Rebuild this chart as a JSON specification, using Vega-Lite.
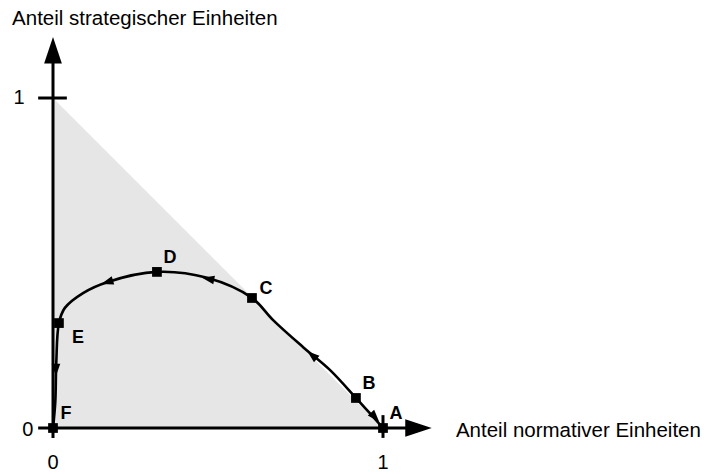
{
  "$schema": "https://vega.github.io/schema/vega-lite/v6.json",
  "width": 709,
  "height": 474,
  "padding": 0,
  "autosize": {"type": "fit", "contains": "padding"},
  "background": "white",
  "config": {"view": {"stroke": null}, "font": "Liberation Sans"},
  "datasets": {
    "tri": [{"x": 0, "y": 1}, {"x": 1, "y": 0}],
    "axes": [
      {"x": -0.045, "x2": 1.1, "y": 0, "y2": 0},
      {"x": 0, "x2": 0, "y": -0.03, "y2": 1.14},
      {"x": -0.045, "x2": 0.042, "y": 1, "y2": 1},
      {"x": 1, "x2": 1, "y": -0.03, "y2": 0.039}
    ],
    "curve": [
      {"o": 1, "x": 1.0, "y": 0.0},
      {"o": 2, "x": 0.96, "y": 0.045},
      {"o": 3, "x": 0.918, "y": 0.091},
      {"o": 4, "x": 0.839, "y": 0.176},
      {"o": 5, "x": 0.758, "y": 0.245},
      {"o": 6, "x": 0.667, "y": 0.327},
      {"o": 7, "x": 0.603, "y": 0.394},
      {"o": 8, "x": 0.467, "y": 0.455},
      {"o": 9, "x": 0.315, "y": 0.473},
      {"o": 10, "x": 0.164, "y": 0.442},
      {"o": 11, "x": 0.091, "y": 0.409},
      {"o": 12, "x": 0.036, "y": 0.364},
      {"o": 13, "x": 0.018, "y": 0.318},
      {"o": 14, "x": 0.01, "y": 0.2},
      {"o": 15, "x": 0.007, "y": 0.08},
      {"o": 16, "x": 0.0, "y": 0.0}
    ],
    "pts": [
      {"label": "A", "x": 1.0, "y": 0.0},
      {"label": "B", "x": 0.918, "y": 0.091},
      {"label": "C", "x": 0.603, "y": 0.394},
      {"label": "D", "x": 0.315, "y": 0.473},
      {"label": "E", "x": 0.018, "y": 0.318},
      {"label": "F", "x": 0.0, "y": 0.0}
    ],
    "dirs": [
      {"x": 0.976, "y": 0.033, "angle": 138},
      {"x": 0.785, "y": 0.221, "angle": 310},
      {"x": 0.47, "y": 0.452, "angle": 281},
      {"x": 0.164, "y": 0.442, "angle": 253},
      {"x": 0.009, "y": 0.176, "angle": 180}
    ],
    "heads": [
      {"x": 0, "y": 1.145, "angle": 0},
      {"x": 1.1076, "y": 0, "angle": 90}
    ],
    "ticks": [
      {"t": "1", "x": -0.103, "y": 1},
      {"t": "0", "x": -0.076, "y": -0.006},
      {"t": "0", "x": 0, "y": -0.106},
      {"t": "1", "x": 1, "y": -0.106}
    ],
    "titles": [
      {"t": "Anteil strategischer Einheiten", "x": -0.124, "y": 1.221},
      {"t": "Anteil normativer Einheiten", "x": 1.221, "y": -0.026}
    ]
  },
  "layer": [
    {
      "data": {"name": "tri"},
      "mark": {"type": "area", "color": "#e6e6e6", "opacity": 1},
      "encoding": {
        "x": {"field": "x", "type": "quantitative", "scale": {"domain": [-0.1606, 1.9879], "nice": false, "zero": false}, "axis": null},
        "y": {"field": "y", "type": "quantitative", "scale": {"domain": [-0.1394, 1.297], "nice": false, "zero": false}, "axis": null},
        "y2": {"datum": 0}
      }
    },
    {
      "data": {"name": "axes"},
      "mark": {"type": "rule", "color": "black", "strokeWidth": 3},
      "encoding": {
        "x": {"field": "x", "type": "quantitative"},
        "x2": {"field": "x2"},
        "y": {"field": "y", "type": "quantitative"},
        "y2": {"field": "y2"}
      }
    },
    {
      "data": {"name": "heads"},
      "mark": {"type": "point", "shape": "M0,-1L0.67,1L-0.67,1Z", "filled": true, "color": "black", "opacity": 1, "size": 700},
      "encoding": {
        "x": {"field": "x", "type": "quantitative"},
        "y": {"field": "y", "type": "quantitative"},
        "angle": {"field": "angle", "type": "quantitative", "scale": null}
      }
    },
    {
      "data": {"name": "curve"},
      "mark": {"type": "line", "color": "black", "strokeWidth": 2.6, "interpolate": "catmull-rom"},
      "encoding": {
        "x": {"field": "x", "type": "quantitative"},
        "y": {"field": "y", "type": "quantitative"},
        "order": {"field": "o", "type": "quantitative"}
      }
    },
    {
      "data": {"name": "dirs"},
      "mark": {"type": "point", "shape": "M0,-1L0.7,1L-0.7,1Z", "filled": true, "color": "black", "opacity": 1, "size": 150},
      "encoding": {
        "x": {"field": "x", "type": "quantitative"},
        "y": {"field": "y", "type": "quantitative"},
        "angle": {"field": "angle", "type": "quantitative", "scale": null}
      }
    },
    {
      "data": {"name": "pts"},
      "mark": {"type": "square", "filled": true, "color": "black", "opacity": 1, "size": 95},
      "encoding": {
        "x": {"field": "x", "type": "quantitative"},
        "y": {"field": "y", "type": "quantitative"}
      }
    },
    {
      "data": {"name": "pts"},
      "transform": [{"filter": "datum.label != 'C' && datum.label != 'E'"}],
      "mark": {"type": "text", "fontWeight": "bold", "fontSize": 18, "dx": 13, "dy": -14, "color": "black"},
      "encoding": {
        "x": {"field": "x", "type": "quantitative"},
        "y": {"field": "y", "type": "quantitative"},
        "text": {"field": "label"}
      }
    },
    {
      "data": {"name": "pts"},
      "transform": [{"filter": "datum.label == 'C'"}],
      "mark": {"type": "text", "fontWeight": "bold", "fontSize": 18, "dx": 14, "dy": -9, "color": "black"},
      "encoding": {
        "x": {"field": "x", "type": "quantitative"},
        "y": {"field": "y", "type": "quantitative"},
        "text": {"field": "label"}
      }
    },
    {
      "data": {"name": "pts"},
      "transform": [{"filter": "datum.label == 'E'"}],
      "mark": {"type": "text", "fontWeight": "bold", "fontSize": 18, "dx": 19, "dy": 15, "color": "black"},
      "encoding": {
        "x": {"field": "x", "type": "quantitative"},
        "y": {"field": "y", "type": "quantitative"},
        "text": {"field": "label"}
      }
    },
    {
      "data": {"name": "ticks"},
      "mark": {"type": "text", "fontSize": 20, "align": "center", "baseline": "middle", "color": "black"},
      "encoding": {
        "x": {"field": "x", "type": "quantitative"},
        "y": {"field": "y", "type": "quantitative"},
        "text": {"field": "t"}
      }
    },
    {
      "data": {"name": "titles"},
      "mark": {"type": "text", "fontSize": 20.5, "align": "left", "baseline": "alphabetic", "color": "black"},
      "encoding": {
        "x": {"field": "x", "type": "quantitative"},
        "y": {"field": "y", "type": "quantitative"},
        "text": {"field": "t"}
      }
    }
  ]
}
